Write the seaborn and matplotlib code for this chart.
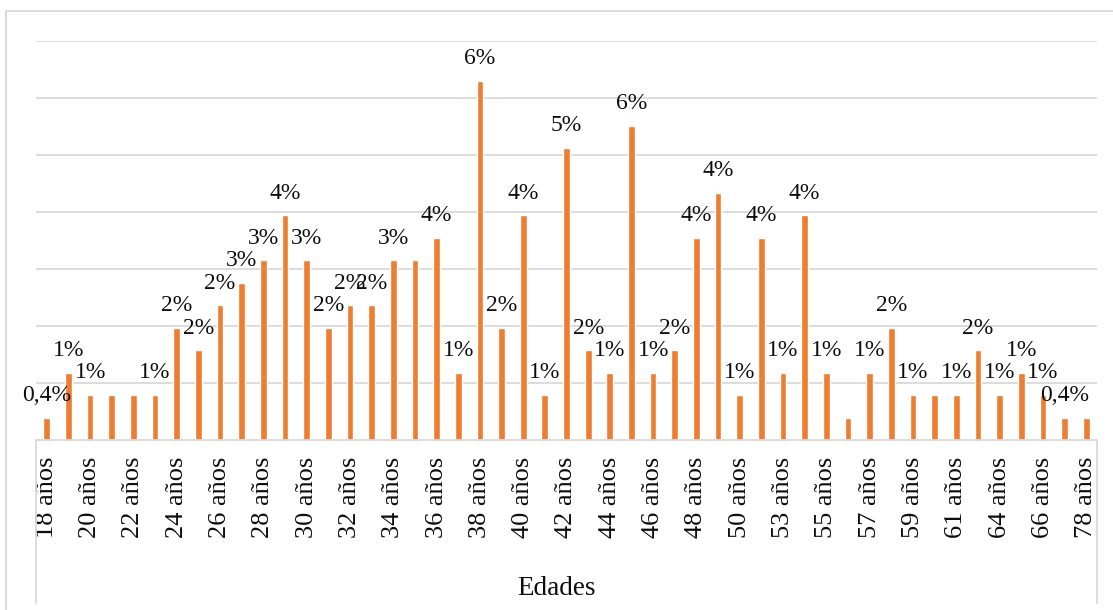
import matplotlib
matplotlib.use("Agg")
import matplotlib.pyplot as plt
import matplotlib.patches as mpatches
import seaborn as sns
import numpy as np

# --- DATA ---
# ages present in the survey (one bar per age)
edades = [18, 19, 20, 21, 22, 23, 24, 25, 26, 27, 28, 29, 30, 31, 32, 33, 34, 35,
          36, 37, 38, 39, 40, 41, 42, 43, 44, 45, 46, 47, 48, 49, 50, 51, 53, 54,
          55, 56, 57, 58, 59, 60, 61, 62, 64, 65, 66, 68, 78]
# number of respondents per age (total 254)
conteos = [1, 3, 2, 2, 2, 2, 5, 4, 6, 7, 8, 10, 8, 5, 6, 6, 8, 8,
           9, 3, 16, 5, 10, 2, 13, 4, 3, 14, 3, 4, 9, 11, 2, 9, 3, 10,
           3, 1, 3, 5, 2, 2, 2, 4, 2, 3, 2, 1, 1]
# data labels as shown in the chart ('' = label hidden)
etiquetas = ["0,4%", "1%", "1%", "", "", "1%", "2%", "2%", "2%", "3%", "3%", "4%", "3%", "2%",
             "2%", "2%", "3%", "", "4%", "1%", "6%", "2%", "4%", "1%", "5%", "2%", "1%", "6%",
             "1%", "2%", "4%", "4%", "1%", "4%", "1%", "4%", "1%", "", "1%", "2%", "1%", "",
             "1%", "2%", "1%", "1%", "1%", "0,4%", ""]

total = sum(conteos)
porcentajes = [100 * c / total for c in conteos]
categorias = [f"{e} años" for e in edades]

# --- STYLE ---
sns.set_style("white")
plt.rcParams["font.family"] = ["Liberation Serif", "DejaVu Serif"]
naranja = "#ED7D31"
gris = "#D9D9D9"
texto = "#0D0D0D"

W, H = 1113, 610
fig = plt.figure(figsize=(W / 100, H / 100), dpi=100)
left, right = 36 / W, 1097 / W
bottom, top = 1 - 440 / H, 1 - 40.7 / H
ax = fig.add_axes([left, bottom, right - left, top - bottom])

sns.barplot(x=categorias, y=porcentajes, color=naranja, width=0.31,
            saturation=1, ax=ax)

ax.set_ylim(0, 7)
ax.set_xlim(-0.5, len(categorias) - 0.5)
ax.set_yticks(range(1, 8))
ax.set_yticklabels([])
ax.yaxis.grid(True, color=gris, linewidth=1.3)
ax.set_axisbelow(True)
for s in ["top", "right", "left"]:
    ax.spines[s].set_visible(False)
ax.spines["bottom"].set_color(gris)
ax.spines["bottom"].set_linewidth(1.3)
ax.tick_params(axis="both", length=0)
ax.set_ylabel("")

# every second category label
pos = np.arange(len(categorias))
ax.set_xticks(pos[::2])
ax.set_xticklabels(categorias[::2], rotation=90, fontsize=19, color=texto)
ax.tick_params(axis="x", pad=12)
ax.set_xlabel("")
ax.text(0.5, 1 - 595 / H, "Edades", transform=fig.transFigure, ha="center",
        va="baseline", fontsize=19.5, color=texto)

# data labels
for i, (v, t) in enumerate(zip(porcentajes, etiquetas)):
    if t:
        ax.annotate(t, (i, v), xytext=(0, 12), textcoords="offset points",
                    ha="center", va="baseline", fontsize=17, color=texto)

# box lines below the category axis
y_low = -(603 - 440) / ((top - bottom) * H)
for xx in (0, 1):
    ax.plot([xx, xx], [0, y_low], transform=ax.transAxes, color=gris,
            linewidth=1.3, clip_on=False)

# outer chart frame
fig.patches.append(mpatches.Rectangle((6 / W, -0.05), 1.2, 1 - 11 / H + 0.05,
                                      transform=fig.transFigure, fill=False,
                                      edgecolor=gris, linewidth=1.3))

fig.savefig("out.png", dpi=100)
